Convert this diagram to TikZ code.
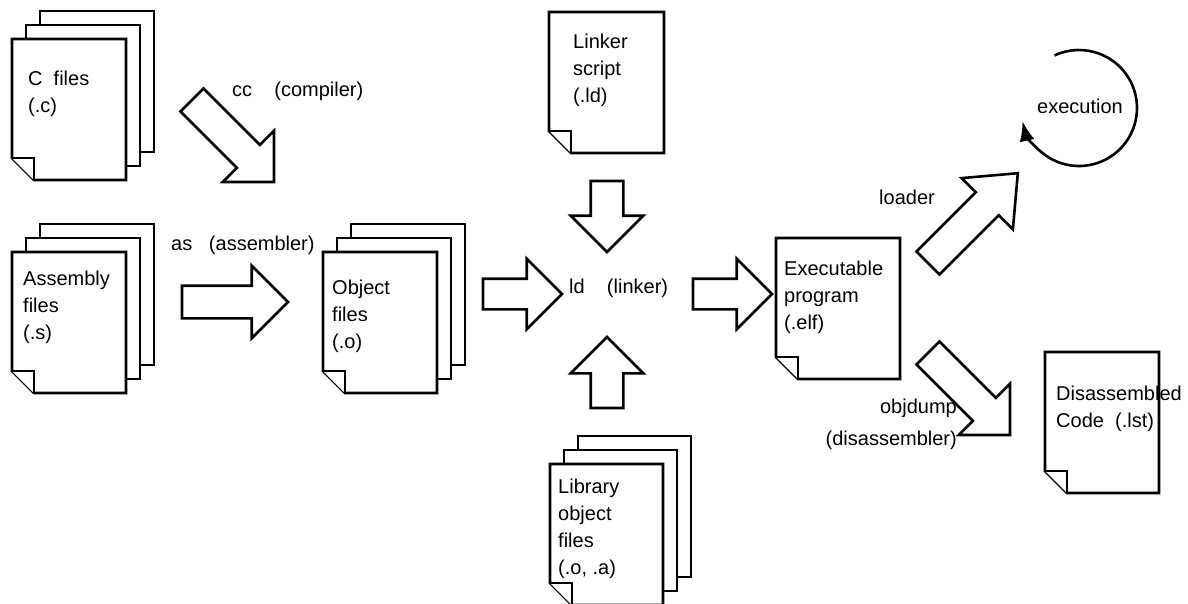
\documentclass[tikz,border=0pt]{standalone}
\usepackage{fontspec}
\setmainfont{Liberation Sans}
\usetikzlibrary{shapes.arrows,arrows.meta}

% one sheet with folded corner: x, y (top left), width
\newcommand{\docpage}[3]{%
  \draw[doc line] (#1,#2) -- ++(#3,0) -- ++(0,141) -- ++(22-#3,0) -- ++(-22,-22) -- cycle;
  \draw[doc line] (#1,#2+119) -- ++(22,0) -- ++(0,22);}
% three sheets behind each other
\newcommand{\docstack}[3]{%
  \draw[doc line] (#1+28,#2-28) rectangle ++(#3,141);
  \draw[doc line] (#1+14,#2-14) rectangle ++(#3,141);
  \docpage{#1}{#2}{#3}}

\begin{document}
\begin{tikzpicture}[x=1pt,y=-1pt,
  doc line/.style={line width=2.6pt,fill=white,line join=miter},
  big arrow/.style={single arrow,draw,fill=white,line width=2.6pt,inner xsep=0pt,inner ysep=15pt,
    outer sep=0pt,single arrow head extend=20pt,single arrow tip angle=90,anchor=tail},
  label node/.style={font=\fontsize{20}{27}\selectfont,inner sep=0pt,align=left,anchor=west}]

  \useasboundingbox (0,0) rectangle (1188,603);

  % files
  \docstack{12}{39}{114}
  \docstack{12}{252}{114}
  \docstack{323}{252}{114}
  \docstack{550}{464}{113}
  \docpage{549}{12}{115}
  \docpage{776}{238}{124}
  \docpage{1045}{352}{114}

  % tools
  \node[big arrow,minimum height=116pt,rotate=-45] (ccarrow) at (192,100) {};
  \node[big arrow,minimum height=106pt] (asarrow) at (182,302) {};
  \node[big arrow,minimum height=79pt,inner ysep=14pt] (objarrow) at (483,294) {};
  \node[big arrow,minimum height=71pt,rotate=-90] (ldsarrow) at (607,181) {};
  \node[big arrow,minimum height=71pt,rotate=90] (libarrow) at (607,408) {};
  \node[big arrow,minimum height=79pt,inner ysep=14pt] (ldarrow) at (693,294) {};
  \node[big arrow,minimum height=127pt,rotate=45,single arrow tip angle=80] (loadarrow) at (928,263) {};
  \node[big arrow,minimum height=116pt,rotate=-45] (dumparrow) at (928,353) {};

  % texts
  \node[label node] (cfiles) at (28,94) {C~~files\\(.c)};
  \node[label node] (asmfiles) at (23,307.5) {Assembly\\files\\(.s)};
  \node[label node] (objfiles) at (332,316.5) {Object\\files\\(.o)};
  \node[label node] (ldscript) at (573,70) {Linker\\script\\(.ld)};
  \node[label node] (libfiles) at (558,529) {Library\\object\\files\\(.o, .a)};
  \node[label node] (exefile) at (784,297.5) {Executable\\program\\(.elf)};
  \node[label node] (lstfile) at (1056,408.5) {Disassembled\\Code~~(.lst)};
  \node[label node] (cc) at (232,91) {cc~~~~(compiler)};
  \node[label node] (as) at (171,245) {as~~~(assembler)};
  \node[label node] (ld) at (569,288) {ld~~~~(linker)};
  \node[label node,anchor=east] (loader) at (935,197) {loader};
  \node[label node,align=right,anchor=east] (objdump) at (957,424) {objdump\\[5pt](disassembler)};
  \node[label node] (exec) at (1037,106) {execution};

  \draw[line width=2.6pt,-{Latex[length=20pt,width=15pt]}] (1079,108) ++(-115:58)
    arc[start angle=-115,end angle=167,radius=58];
\end{tikzpicture}
\end{document}
